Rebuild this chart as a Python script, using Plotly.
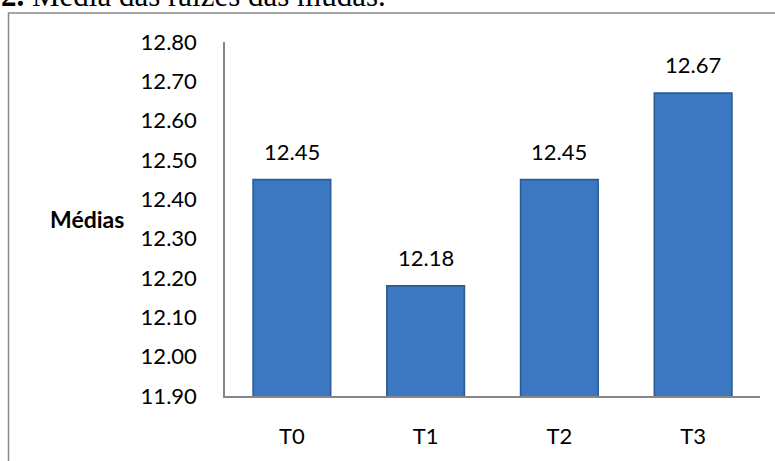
import plotly.graph_objects as go

categories = ["T0", "T1", "T2", "T3"]
values = [12.45, 12.18, 12.45, 12.67]
labels = ["12.45", "12.18", "12.45", "12.67"]
tick_vals = [11.9, 12.0, 12.1, 12.2, 12.3, 12.4, 12.5, 12.6, 12.7, 12.8]
tick_text = ["11.90", "12.00", "12.10", "12.20", "12.30", "12.40", "12.50", "12.60", "12.70", "12.80"]

FONT = "Lato"
W, H = 775, 461
ML, MR, MT, MB = 225, 15, 42, 58
pw = W - ML - MR
ph = H - MT - MB

def px_x(x):
    return (x - ML) / pw

def px_y(y):
    return (H - MB - y) / ph

fig = go.Figure()
fig.add_trace(go.Bar(
    x=categories, y=values,
    marker=dict(color="#3C78C2", line=dict(color="#2C5A94", width=1.6)),
    showlegend=False, hoverinfo="skip",
))

for c, v, t in zip(categories, values, labels):
    fig.add_annotation(x=c, y=v, text=t, showarrow=False, yanchor="bottom",
                       yshift=13, font=dict(family=FONT, size=22, color="#000000"))

fig.add_annotation(xref="paper", yref="paper", x=px_x(87), y=px_y(223),
                   text="<b>Médias</b>", showarrow=False, xanchor="center", yanchor="middle",
                   font=dict(family=FONT, size=23, color="#000000"))

fig.add_annotation(xref="paper", yref="paper", x=px_x(-1), y=px_y(14),
                   text="<b>2.</b> Média das raízes das mudas.", showarrow=False,
                   xanchor="left", yanchor="bottom",
                   font=dict(family="Liberation Serif", size=31, color="#000000"))

fig.add_shape(type="rect", xref="paper", yref="paper",
              x0=px_x(8.5), x1=px_x(800), y0=px_y(500), y1=px_y(12.5),
              line=dict(color="#888888", width=1.5), fillcolor="rgba(0,0,0,0)", layer="below")

fig.update_layout(
    width=W, height=H,
    margin=dict(l=ML, r=MR, t=MT, b=MB, pad=0),
    paper_bgcolor="white", plot_bgcolor="white",
    bargap=0.42,
    font=dict(family=FONT, size=22, color="#000000"),
    xaxis=dict(showline=True, linecolor="#868686", linewidth=1.5, ticks="",
               showgrid=False, ticklabelstandoff=20, tickfont=dict(family=FONT, size=22)),
    yaxis=dict(range=[11.9, 12.8], tickvals=tick_vals, ticktext=tick_text,
               showline=True, linecolor="#868686", linewidth=1.5, ticks="",
               showgrid=False, zeroline=False, ticklabelstandoff=22,
               tickfont=dict(family=FONT, size=22)),
)

fig.write_html("out.html")
